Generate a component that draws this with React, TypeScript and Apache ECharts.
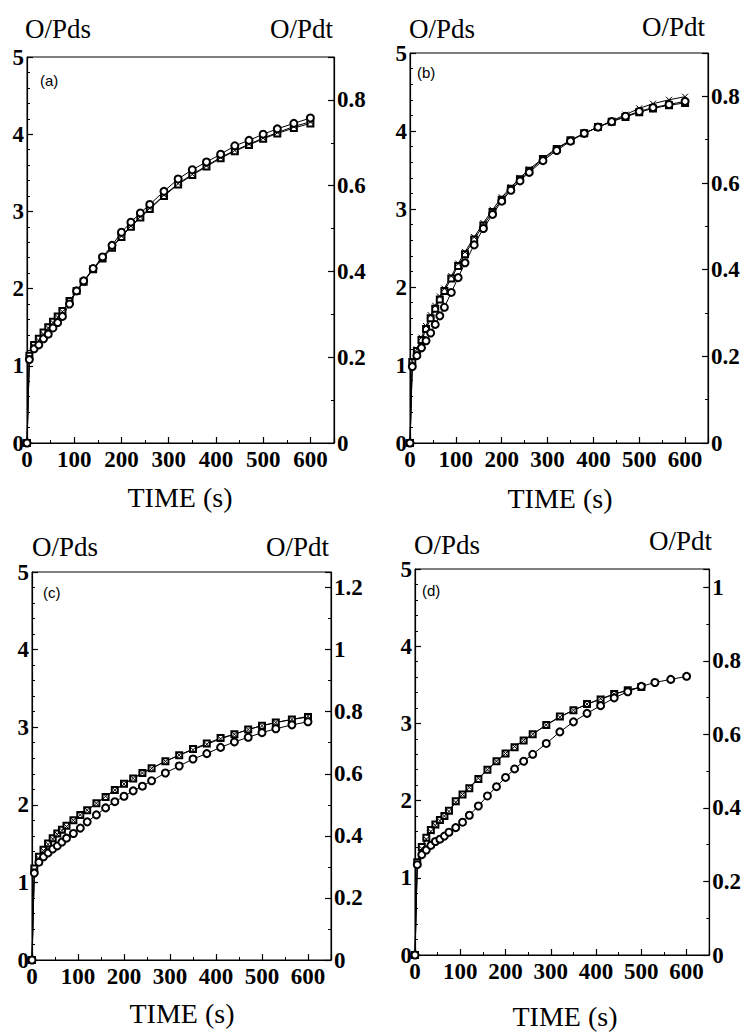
import React, { useEffect, useRef } from "react";
import * as echarts from "echarts";

// ---- data ----
const time = [0, 5, 15, 25, 35, 45, 55, 65, 75, 90, 105, 120, 140, 160, 180, 200, 220, 240, 260, 290, 320, 350, 380, 410, 440, 470, 500, 530, 565, 600];

const aCircle = [0, 1.08, 1.22, 1.27, 1.35, 1.41, 1.49, 1.56, 1.64, 1.80, 1.97, 2.10, 2.26, 2.41, 2.56, 2.73, 2.86, 2.98, 3.09, 3.26, 3.42, 3.54, 3.64, 3.74, 3.85, 3.92, 4.00, 4.07, 4.14, 4.21];
const aSquare = [0, 1.13, 1.27, 1.35, 1.43, 1.50, 1.57, 1.64, 1.71, 1.84, 1.97, 2.09, 2.25, 2.39, 2.53, 2.67, 2.80, 2.92, 3.03, 3.20, 3.35, 3.47, 3.58, 3.69, 3.78, 3.86, 3.94, 4.01, 4.08, 4.14];
const aCross = [0, 1.11, 1.25, 1.33, 1.41, 1.49, 1.56, 1.63, 1.70, 1.83, 1.96, 2.09, 2.25, 2.40, 2.54, 2.68, 2.81, 2.93, 3.04, 3.21, 3.36, 3.48, 3.59, 3.70, 3.79, 3.87, 3.95, 4.02, 4.10, 4.16];

const bCircle = [0, 0.98, 1.12, 1.22, 1.31, 1.41, 1.52, 1.63, 1.74, 1.93, 2.12, 2.31, 2.54, 2.75, 2.93, 3.10, 3.24, 3.36, 3.47, 3.62, 3.75, 3.87, 3.97, 4.05, 4.12, 4.19, 4.25, 4.30, 4.34, 4.38];
const bSquare = [0, 1.04, 1.18, 1.32, 1.46, 1.60, 1.72, 1.84, 1.95, 2.11, 2.27, 2.42, 2.61, 2.79, 2.96, 3.12, 3.26, 3.38, 3.49, 3.64, 3.77, 3.88, 3.97, 4.05, 4.12, 4.18, 4.24, 4.29, 4.33, 4.36];
const bCross = [0, 1.05, 1.20, 1.35, 1.50, 1.64, 1.76, 1.88, 1.98, 2.14, 2.30, 2.45, 2.64, 2.82, 2.99, 3.15, 3.28, 3.40, 3.51, 3.65, 3.78, 3.88, 3.97, 4.05, 4.13, 4.21, 4.29, 4.35, 4.40, 4.44];

const cCircle = [0, 1.12, 1.26, 1.33, 1.38, 1.43, 1.47, 1.52, 1.57, 1.63, 1.70, 1.78, 1.87, 1.96, 2.04, 2.11, 2.18, 2.24, 2.31, 2.41, 2.50, 2.59, 2.66, 2.74, 2.81, 2.87, 2.93, 2.98, 3.03, 3.07];
const cSquare = [0, 1.18, 1.33, 1.42, 1.50, 1.57, 1.63, 1.68, 1.73, 1.80, 1.87, 1.93, 2.02, 2.10, 2.19, 2.27, 2.34, 2.41, 2.47, 2.56, 2.64, 2.72, 2.79, 2.86, 2.91, 2.97, 3.02, 3.06, 3.10, 3.13];
const cCross = [0, 1.16, 1.31, 1.41, 1.49, 1.56, 1.62, 1.67, 1.72, 1.80, 1.87, 1.93, 2.02, 2.11, 2.19, 2.27, 2.34, 2.41, 2.47, 2.56, 2.64, 2.71, 2.78, 2.85, 2.91, 2.97, 3.02, 3.06, 3.10, 3.14];

const dCircle = [0, 1.17, 1.30, 1.36, 1.42, 1.47, 1.50, 1.54, 1.59, 1.65, 1.72, 1.81, 1.93, 2.06, 2.18, 2.30, 2.41, 2.51, 2.60, 2.74, 2.89, 3.02, 3.13, 3.23, 3.33, 3.41, 3.48, 3.53, 3.57, 3.61];
const dSquare = [0, 1.20, 1.40, 1.52, 1.62, 1.69, 1.75, 1.80, 1.87, 1.99, 2.08, 2.16, 2.28, 2.40, 2.51, 2.61, 2.69, 2.78, 2.86, 2.98, 3.09, 3.17, 3.25, 3.31, 3.38, 3.43, 3.47, null, null, null];
const dCross = [0, 1.19, 1.38, 1.50, 1.60, 1.68, 1.74, 1.80, 1.86, 1.98, 2.08, 2.17, 2.29, 2.40, 2.51, 2.61, 2.70, 2.78, 2.86, 2.98, 3.08, 3.17, 3.25, 3.32, 3.38, 3.43, 3.47, null, null, null];

const panelLabels = ["(a)", "(b)", "(c)", "(d)"];
const leftTitle = "O/Pds";
const rightTitle = "O/Pdt";
const xTitle = "TIME (s)";
const leftMax = 5;
const timeMax = 650;
const rightMax = [0.9, 0.9, 1.25, 1.05];
const seriesData = [
  [aSquare, aCross, aCircle],
  [bSquare, bCross, bCircle],
  [cSquare, cCross, cCircle],
  [dSquare, dCross, dCircle],
];

// ---- layout ----
const grids = [
  { left: 27, top: 57, width: 307, height: 386 },
  { left: 410, top: 53, width: 298, height: 390 },
  { left: 32, top: 572, width: 299, height: 388 },
  { left: 415, top: 569, width: 297, height: 386 },
];
const titlePos = [
  { pdsX: 25, pdsY: 29, pdtX: 333, pdtY: 29, letterX: 40, letterY: 80, timeX: 180, timeY: 497 },
  { pdsX: 409, pdsY: 29, pdtX: 705, pdtY: 27, letterX: 417, letterY: 72, timeX: 560, timeY: 498 },
  { pdsX: 32, pdsY: 547, pdtX: 329, pdtY: 547, letterX: 43, letterY: 592, timeX: 182, timeY: 1013 },
  { pdsX: 414, pdsY: 545, pdtX: 712, pdtY: 541, letterX: 422, letterY: 590, timeX: 565, timeY: 1016 },
];

const SERIF = '"Liberation Serif", "Times New Roman", serif';
const labelStyle = { fontFamily: SERIF, fontWeight: "bold" as const, fontSize: 23, color: "#000" };
const axisLine = { show: true, lineStyle: { color: "#000", width: 1.2 } };
const crossPath = "path://M0,0L10,10M10,0L0,10";

function fmtStep(step: number) {
  return (v: number) => {
    const k = v / step;
    if (Math.abs(k - Math.round(k)) > 1e-6) return "";
    return String(parseFloat(v.toFixed(2)));
  };
}

export default function App() {
  const ref = useRef<HTMLDivElement>(null);
  useEffect(() => {
    if (!ref.current) return;
    const chart = echarts.init(ref.current, undefined, { renderer: "svg" });

    const xAxis: any[] = [];
    const yAxis: any[] = [];
    const series: any[] = [];
    const graphic: any[] = [];

    grids.forEach((g, i) => {
      xAxis.push({
        type: "value",
        gridIndex: i,
        min: 0,
        max: timeMax,
        interval: 100,
        axisLine,
        axisTick: { show: true, inside: true, length: 6, lineStyle: { color: "#000", width: 1.2 } },
        minorTick: { show: true, splitNumber: 2, length: 3, lineStyle: { color: "#000" } },
        splitLine: { show: false },
        axisLabel: { ...labelStyle, margin: 5, formatter: fmtStep(100) },
      });
      yAxis.push({
        type: "value",
        gridIndex: i,
        position: "left",
        min: 0,
        max: leftMax,
        interval: 1,
        axisLine,
        axisTick: { show: true, inside: true, length: 6, lineStyle: { color: "#000", width: 1.2 } },
        minorTick: { show: true, splitNumber: 5, length: 3, lineStyle: { color: "#000" } },
        splitLine: { show: false },
        axisLabel: { ...labelStyle, margin: 3, formatter: fmtStep(1) },
      });
      yAxis.push({
        type: "value",
        gridIndex: i,
        position: "right",
        min: 0,
        max: rightMax[i],
        interval: 0.2,
        axisLine,
        axisTick: { show: true, inside: true, length: 6, lineStyle: { color: "#000", width: 1.2 } },
        minorTick: { show: true, splitNumber: 2, length: 3, lineStyle: { color: "#000" } },
        splitLine: { show: false },
        axisLabel: { ...labelStyle, margin: 3, formatter: fmtStep(0.2) },
      });

      const [sq, cr, ci] = seriesData[i];
      const mk = (arr: (number | null)[]) =>
        time.map((t, k) => [t, arr[k]]).filter((p) => p[1] !== null && p[1] !== undefined);
      const common = {
        type: "line",
        xAxisIndex: i,
        yAxisIndex: i * 2,
        lineStyle: { color: "#000", width: 1 },
        showAllSymbol: true,
        silent: true,
      };
      series.push({
        ...common,
        name: "square" + i,
        data: mk(sq),
        symbol: "emptyRect",
        symbolSize: 6,
        itemStyle: { color: "#000", borderColor: "#000", borderWidth: 1 },
      });
      series.push({
        ...common,
        name: "cross" + i,
        data: mk(cr),
        symbol: crossPath,
        symbolSize: 6,
        itemStyle: { color: "#000", borderColor: "#000", borderWidth: 1 },
      });
      series.push({
        ...common,
        name: "circle" + i,
        data: mk(ci),
        symbol: "emptyCircle",
        symbolSize: 7,
        itemStyle: { color: "#000", borderColor: "#000", borderWidth: 1 },
      });

      const p = titlePos[i];
      graphic.push({
        type: "text", x: p.pdsX, y: p.pdsY,
        style: { text: leftTitle, font: `27px ${SERIF}`, fill: "#000", align: "left", verticalAlign: "middle" },
      });
      graphic.push({
        type: "text", x: p.pdtX, y: p.pdtY,
        style: { text: rightTitle, font: `27px ${SERIF}`, fill: "#000", align: "right", verticalAlign: "middle" },
      });
      graphic.push({
        type: "text", x: p.letterX, y: p.letterY,
        style: { text: panelLabels[i], font: '15px "Liberation Sans", Arial, sans-serif', fill: "#000", align: "left", verticalAlign: "middle" },
      });
      graphic.push({
        type: "text", x: p.timeX, y: p.timeY,
        style: { text: xTitle, font: `28px ${SERIF}`, fill: "#000", align: "center", verticalAlign: "middle" },
      });
    });

    chart.setOption({
      animation: false,
      backgroundColor: "#fff",
      grid: grids.map((g) => ({ ...g, show: true, borderColor: "#000", borderWidth: 1, backgroundColor: "transparent" })),
      xAxis,
      yAxis,
      series,
      graphic,
    });
    return () => chart.dispose();
  }, []);
  return (
    <div
      ref={ref}
      style={{ position: "absolute", left: 0, top: 0, width: 744, height: 1032, background: "#fff" }}
    />
  );
}
